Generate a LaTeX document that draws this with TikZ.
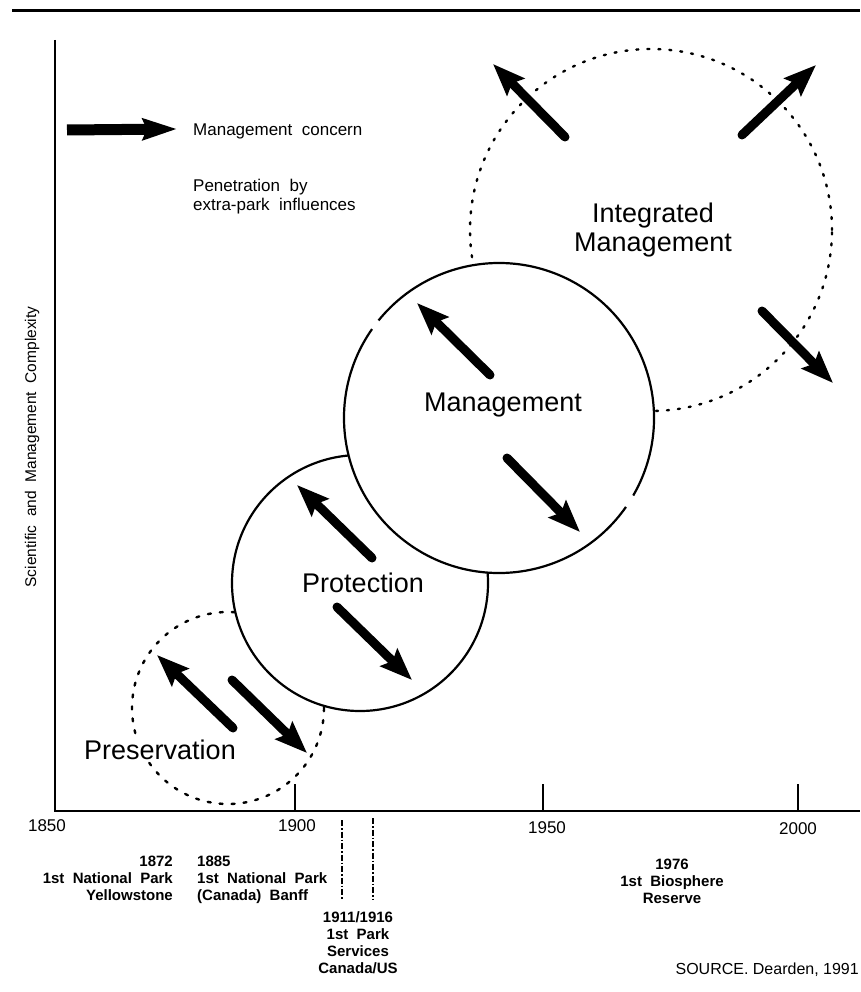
\documentclass[tikz,border=0pt]{standalone}
\usepackage{fontspec}
\setmainfont{Liberation Sans}
\usetikzlibrary{arrows.meta}
\begin{document}
\begin{tikzpicture}[x=1pt,y=-1pt,
  solidring/.style={draw=black, line width=2.2pt, fill=white},
  dotring/.style={draw=black, line width=2.4pt, dash pattern=on 2pt off 9pt, line cap=round},
  concern/.style={line width=9pt, line cap=round, -{Stealth[length=32pt,width=24pt,inset=5pt]}},
  axisline/.style={line width=2.4pt},
  ticklabel/.style={font=\fontsize{17}{19}\selectfont, inner sep=0pt},
  event/.style={font=\bfseries\fontsize{15}{17}\selectfont, inner sep=0pt},
  stage/.style={font=\fontsize{27}{29}\selectfont, inner sep=0pt},
  legendtext/.style={font=\fontsize{17}{19}\selectfont, inner sep=0pt, anchor=west, align=left},
  milestone/.style={line width=1.2pt, dash pattern=on 6pt off 2pt on 1.5pt off 2pt}
]
\useasboundingbox (0,0) rectangle (860,992);

% rule across the top
\draw[line width=3pt] (12,11) -- (860,11);

% axes
\draw[axisline] (55,40) -- (55,811) -- (860,811);
\foreach \tx in {295,543,798}
  \draw[axisline] (\tx,784) -- (\tx,811);

\node[ticklabel] (y1850) at (47,826) {1850};
\node[ticklabel] (y1900) at (297,826) {1900};
\node[ticklabel] (y1950) at (547,828) {1950};
\node[ticklabel] (y2000) at (798,829) {2000};

\node[rotate=90, font=\fontsize{15.5}{18}\selectfont, inner sep=0pt] (ylabel) at (32,447)
  {Scientific\ \ and\ \ Management\ \ Complexity};

% stage circles, back to front
\draw[dotring] (651,230) circle[radius=181pt];
\draw[dotring, dash pattern=on 3pt off 9pt] (228,708) circle[radius=96pt];
\draw[solidring] (360,583) circle[radius=128pt];
\fill[white] (499,418) circle[radius=155pt];
\draw[line width=2.2pt] ([shift={(-30:155pt)}]499,418) arc[start angle=-30, end angle=141, radius=155pt];
\draw[line width=2.2pt] ([shift={(145:155pt)}]499,418) arc[start angle=145, end angle=325, radius=155pt];

% stage names
\node[stage, align=center] (integrated) at (653,230) {Integrated\\Management};
\node[stage] (management) at (503,405) {Management};
\node[stage] (protection) at (363,583) {Protection};
\node[stage, fill=white, inner sep=1.5pt] (preservation) at (160,750) {Preservation};

% management concern arrows
\draw[concern] (565,137) -- (493,64);
\draw[concern] (742,135) -- (816,65);
\draw[concern] (762,311) -- (833,383);
\draw[concern] (490,375) -- (417,303);
\draw[concern] (507,458) -- (580,532);
\draw[concern] (372,558) -- (297,485);
\draw[concern] (337,607) -- (412,680);
\draw[concern] (233,728) -- (157,655);
\draw[concern] (232,680) -- (307,753);

% legend
\draw[line width=11pt, -{Stealth[length=34pt,width=21pt,inset=4pt]}] (67,130) -- (177,129);
\node[legendtext] (legconcern) at (193,131) {Management\ \ concern};
\node[legendtext] (legpenetration) at (193,197) {Penetration\ \ by\\extra-park\ \ influences};

% milestone markers below the axis
\draw[milestone] (342,820) -- (342,900);
\draw[milestone] (373,818) -- (373,900);

\node[event, anchor=north east, align=right] (yellowstone) at (173,856)
  {1872\\1st\ \ National\ \ Park\\Yellowstone};
\node[event, anchor=north west, align=left] (banff) at (197,856)
  {1885\\1st\ \ National\ \ Park\\(Canada)\ \ Banff};
\node[event, anchor=north, align=center] (services) at (358,911)
  {1911/1916\\1st\ \ Park\\Services\\Canada/US};
\node[event, anchor=north, align=center] (biosphere) at (672,859)
  {1976\\1st\ \ Biosphere\\Reserve};
\node[font=\fontsize{16}{18}\selectfont, inner sep=0pt, anchor=east] (source) at (859,970)
  {SOURCE.\ Dearden, 1991};
\end{tikzpicture}
\end{document}
